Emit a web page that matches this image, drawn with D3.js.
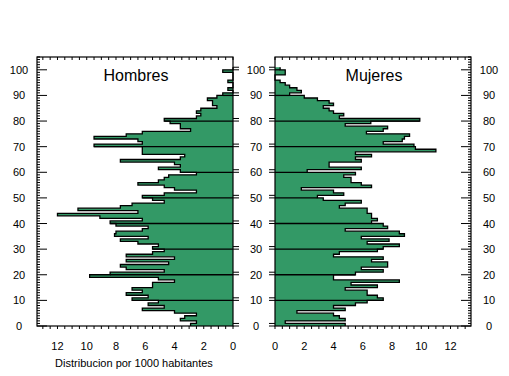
<!DOCTYPE html>
<html>
<head>
<meta charset="utf-8">
<script src="https://cdn.jsdelivr.net/npm/d3@7"></script>
<style>
  body { margin: 0; background: #fff; }
  text { font-family: "Liberation Sans", Arial, sans-serif; fill: #000; }
</style>
</head>
<body>
<svg width="509" height="376"></svg>
<script>
// per 1000 inhabitants, ages 0..100
const hombres = [
  2.9, 2.5, 3.6, 3.3, 2.5, 4.0, 6.2, 4.7, 5.8, 5.1,
  6.9, 5.8, 7.3, 6.2, 6.9, 5.5, 5.5, 4.0, 5.1, 9.8,
  8.4, 4.7, 7.3, 7.7, 4.4, 7.3, 4.0, 7.3, 5.5, 4.7,
  5.5, 5.1, 6.5, 7.7, 5.8, 8.1, 8.0, 6.2, 5.8, 8.0,
  8.4, 6.2, 9.1, 12.0, 6.5, 10.6, 7.7, 6.9, 4.7, 5.5,
  6.2, 4.7, 2.5, 4.0, 4.7, 6.5, 5.1, 4.7, 4.4, 2.5,
  3.6, 5.1, 3.6, 4.0, 7.7, 3.6, 3.3, 6.2, 6.2, 6.2,
  9.5, 6.2, 6.5, 9.5, 7.3, 6.2, 2.9, 3.6, 3.6, 4.3,
  4.7, 2.5, 2.2, 2.5, 2.2, 1.1, 1.4, 1.4, 1.75, 1.1,
  0.7, 0, 0.35, 0, 0, 0.35, 0, 0, 0, 0.7,
  0
];
const mujeres = [
  4.8, 0.7, 4.8, 4.4, 4.0, 1.5, 4.8, 4.0, 5.5, 6.3,
  7.4, 7.0, 6.3, 6.3, 4.8, 7.0, 5.2, 8.5, 4.0, 4.0,
  5.5, 7.4, 5.9, 7.7, 7.7, 6.6, 7.4, 4.0, 4.4, 7.0,
  7.4, 8.5, 6.3, 7.8, 5.9, 8.85, 8.5, 4.8, 7.7, 7.4,
  6.6, 7.0, 6.6, 6.6, 6.3, 6.3, 4.4, 4.8, 5.9, 3.3,
  2.9, 4.7, 4.0, 1.8, 6.6, 5.9, 5.2, 5.2, 4.7, 5.5,
  2.2, 5.9, 3.7, 3.7, 5.9, 5.5, 6.6, 5.5, 11.0, 9.6,
  9.5, 7.4, 8.7, 8.85, 9.2, 6.25, 7.4, 7.7, 4.8, 6.55,
  9.9, 4.4, 4.7, 4.0, 3.7, 3.3, 4.0, 3.7, 2.9, 2.0,
  1.0, 1.8, 1.5, 1.0, 0.7, 0.35, 0, 0, 0.7, 0.7,
  0.35
];
const xTicks = [0, 2, 4, 6, 8, 10, 12];
const yTicks = [0, 10, 20, 30, 40, 50, 60, 70, 80, 90, 100];
const panelNames = ["Hombres", "Mujeres"];
const xTitle = "Distribucion por 1000 habitantes";

const chart = d3.select("svg");

const GREEN = "#339966";
const X_MAX = 13.4, Y_MAX = 105;
const TOP = 57, BOTTOM = 326;

const yScale = d3.scaleLinear().domain([0, Y_MAX]).range([BOTTOM, TOP]);
const xLeft = d3.scaleLinear().domain([0, X_MAX]).range([233, 37]);
const xRight = d3.scaleLinear().domain([0, X_MAX]).range([275, 471]);

const yearTicks = d3.range(0, Y_MAX + 1, 1);
const halfTicks = d3.range(0, X_MAX, 0.5);

function drawPanel(xs, values, name, dir) {
  // dir = -1 bars grow to the left, +1 to the right
  const g = chart.append("g");

  let pts = values.map((v, i) => ({ age: i, v: v }));
  pts.push({ age: values.length, v: values[values.length - 1] });

  const area = d3.area()
                 .curve(d3.curveStepBefore)
                 .y((d) => yScale(d.age))
                 .x0(xs(0))
                 .x1((d) => xs(d.v));

  const outline = d3.line()
                    .curve(d3.curveStepBefore)
                    .x((d) => xs(d.v))
                    .y((d) => yScale(d.age));

  g.append("path")
   .attr("d", area(pts))
   .attr("fill", GREEN);

  g.append("path")
   .attr("d", outline(pts))
   .attr("fill", "none")
   .attr("stroke", "#000")
   .attr("stroke-width", 1.3);

  // black line along the bottom of each decade bar
  g.selectAll("line.dec")
   .data(yTicks.filter((t) => t > 0 && t < values.length))
   .enter()
   .append("line")
   .attr("x1", xs(0))
   .attr("x2", (d) => xs(values[d]))
   .attr("y1", (d) => yScale(d))
   .attr("y2", (d) => yScale(d))
   .attr("stroke", "#000")
   .attr("stroke-width", 1.3);

  const x0 = xs(0), xEnd = xs(X_MAX);
  const outer = Math.min(x0, xEnd), inner = Math.max(x0, xEnd);

  // frame
  g.append("rect")
   .attr("x", outer)
   .attr("y", TOP)
   .attr("width", inner - outer)
   .attr("height", BOTTOM - TOP)
   .attr("fill", "none")
   .attr("stroke", "#000")
   .attr("stroke-width", 1.2);

  // outer vertical axis: yearly ticks pointing inward
  g.selectAll("line.yt")
   .data(yearTicks)
   .enter()
   .append("line")
   .attr("x1", xEnd)
   .attr("x2", (d) => xEnd + dir * ((d % 10 === 0) ? -10 : -3) * -1 * -1)
   .attr("y1", (d) => yScale(d))
   .attr("y2", (d) => yScale(d))
   .attr("stroke", "#000");

  // inner vertical axis: paired ticks outside at each decade
  yTicks.forEach((t) => {
    [t, t + 1].forEach((a) => {
      g.append("line")
       .attr("x1", x0)
       .attr("x2", x0 - dir * 6)
       .attr("y1", yScale(a))
       .attr("y2", yScale(a))
       .attr("stroke", "#000");
    });
  });

  // top and bottom ticks
  g.selectAll("line.xt")
   .data(halfTicks)
   .enter()
   .append("line")
   .attr("x1", (d) => xs(d))
   .attr("x2", (d) => xs(d))
   .attr("y1", TOP)
   .attr("y2", TOP + 3)
   .attr("stroke", "#000");

  g.selectAll("line.xb")
   .data(halfTicks)
   .enter()
   .append("line")
   .attr("x1", (d) => xs(d))
   .attr("x2", (d) => xs(d))
   .attr("y1", BOTTOM)
   .attr("y2", BOTTOM + 3)
   .attr("stroke", "#000");

  g.selectAll("text.xl")
   .data(xTicks)
   .enter()
   .append("text")
   .attr("x", (d) => xs(d))
   .attr("y", 350)
   .attr("text-anchor", "middle")
   .style("font-size", "11px")
   .text((d) => d);

  g.append("text")
   .attr("x", (outer + inner) / 2 + 1)
   .attr("y", 81)
   .attr("text-anchor", "middle")
   .style("font-size", "16px")
   .text(name);
}

drawPanel(xLeft, hombres, panelNames[0], -1);
drawPanel(xRight, mujeres, panelNames[1], 1);

// age labels: left, middle, right
[19, 256, 489].forEach((lx) => {
  chart.selectAll(null)
       .data(yTicks)
       .enter()
       .append("text")
       .attr("x", lx)
       .attr("y", (d) => yScale(d) + 4)
       .attr("text-anchor", "middle")
       .style("font-size", "11px")
       .text((d) => d);
});

chart.append("text")
     .attr("x", 134)
     .attr("y", 367)
     .attr("text-anchor", "middle")
     .style("font-size", "11px")
     .text(xTitle);
</script>
</body>
</html>
